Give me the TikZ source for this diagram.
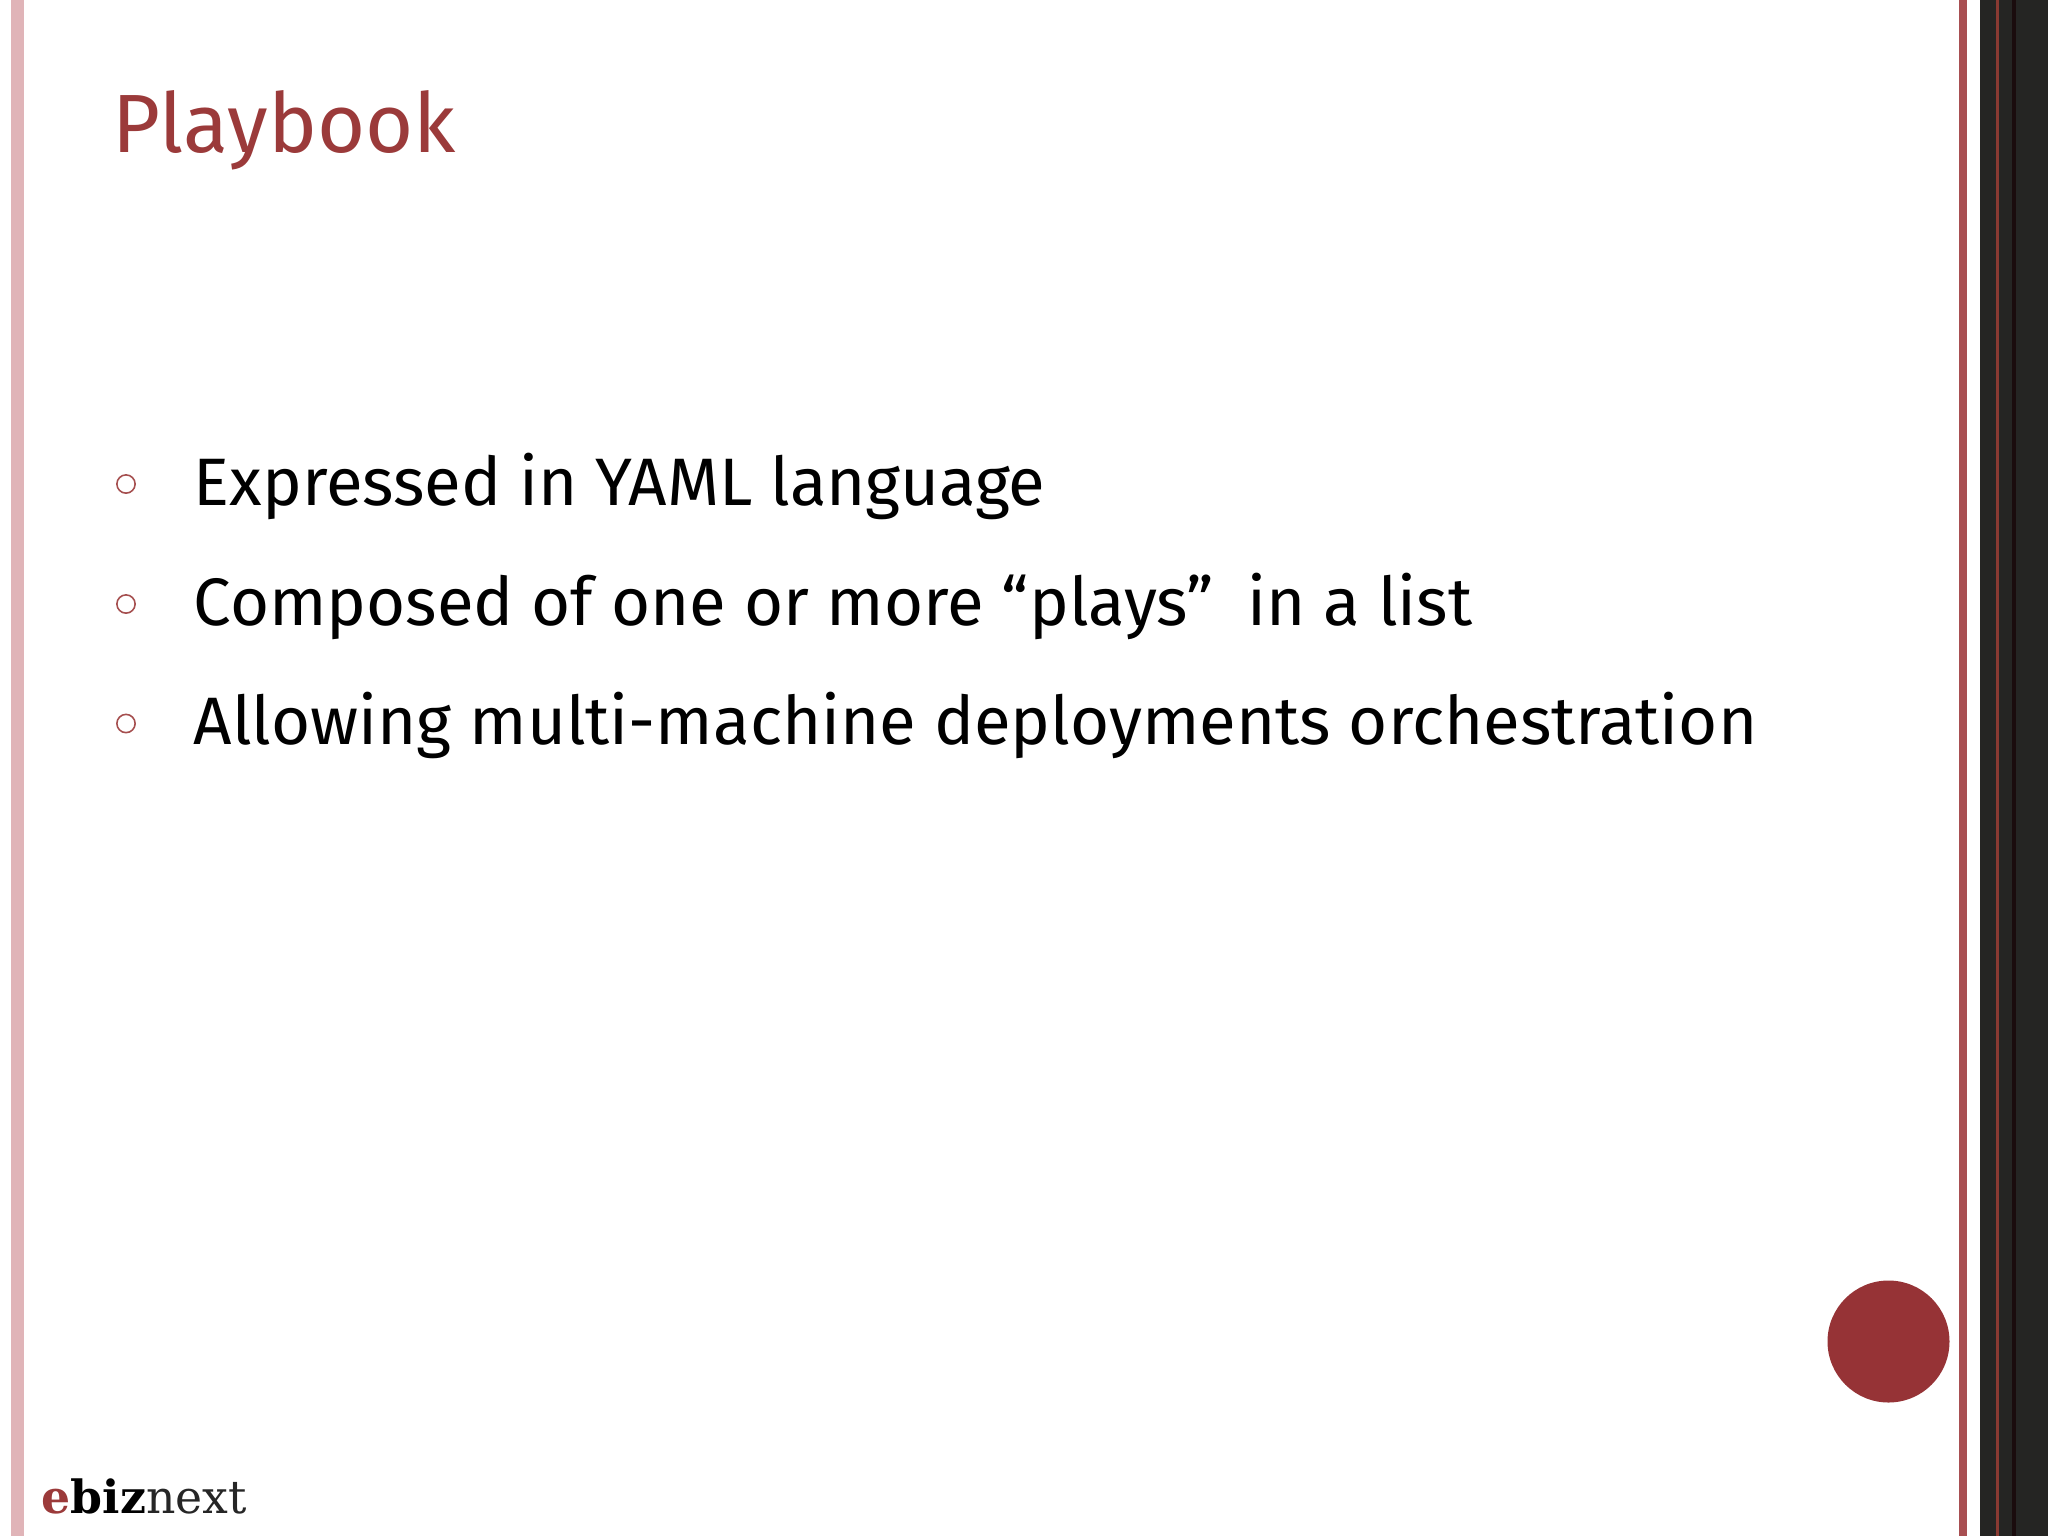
\documentclass[tikz,border=0pt]{standalone}
\usepackage{fontspec}
\setmainfont{Fira Sans}
\newfontfamily\logofont{DejaVu Serif}
\definecolor{titlered}{HTML}{9B3A3A}
\definecolor{barpink}{HTML}{E0B4B8}
\definecolor{barred}{HTML}{A84F52}
\definecolor{dotred}{HTML}{963336}
\definecolor{edgedark}{HTML}{252523}
\definecolor{edgeline}{HTML}{8A3A32}
\definecolor{edgeblack}{HTML}{1A0C0D}
\tikzset{
  heading/.style={anchor=base west, inner sep=0pt, text=titlered, font=\fontsize{23.5}{23.5}\selectfont},
  entry/.style={anchor=base west, inner sep=0pt, text=black, font=\fontsize{19.09}{19.09}\selectfont},
  ring/.style={circle, draw=titlered!90, line width=0.45pt, minimum size=5.2pt, inner sep=0pt},
  logo/.style={anchor=base west, inner sep=0pt, font=\logofont\fontsize{13}{13}\selectfont}
}
\begin{document}
\begin{tikzpicture}[x=0.01cm, y=-0.01cm]
      % \draw[help lines] (0, 0) grid (2048, 1536);
      \useasboundingbox (0, 0) rectangle (2048, 1536);
      \fill[white] (0, 0) rectangle (2048, 1536);
      % side bars
      \fill[barpink] (11, 0) rectangle (24, 1536);
      \fill[barred] (1959, 0) rectangle (1967, 1536);
      \fill[edgedark] (1980, 0) rectangle (2048, 1536);
      \fill[edgeline] (1996, 0) rectangle (1998.5, 1536);
      \fill[edgeblack] (2012, 0) rectangle (2016, 1536);
      \fill[dotred] (1888.5, 1341.5) circle (61);
      % title and list
      \node[heading] (title) at (112, 152) {Playbook};
      \node[ring] (ringa) at (126, 484) {};
      \node[entry] (itema) at (193, 505) {Expressed in YAML language};
      \node[ring] (ringb) at (126, 604) {};
      \node[entry] (itemb) at (193, 625) {Composed of one or more “plays”\hspace{4.5pt} in a list};
      \node[ring] (ringc) at (126, 723.5) {};
      \node[entry] (itemc) at (193, 744) {Allowing multi-machine deployments orchestration};
      % logo
      \node[logo] (logotext) at (41, 1513) {\textcolor{titlered}{\textbf{e}}\textbf{biz}\textcolor{black!85}{next}};
\end{tikzpicture}
\end{document}
